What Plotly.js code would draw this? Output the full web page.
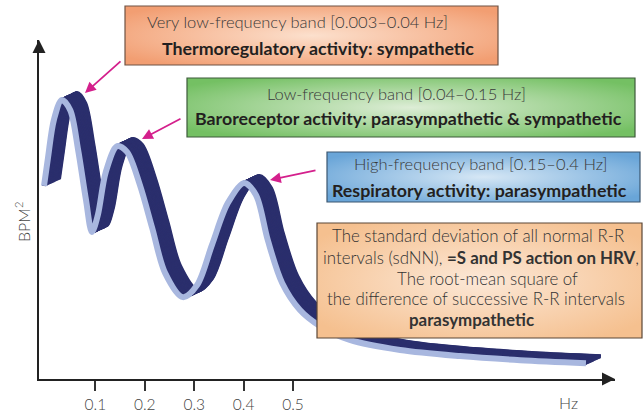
<!DOCTYPE html>
<html>
<head>
<meta charset="utf-8">
<script src="https://cdn.plot.ly/plotly-3.0.1.min.js"></script>
<style>html,body{margin:0;padding:0;background:#fff;}#chart{width:644px;height:413px;}</style>
</head>
<body>
<div id="chart"></div>
<script>
// ---- data (frequency in Hz, spectral power in arbitrary BPM² units)
const freqHz = [-0.004, 0.004, 0.016, 0.032, 0.049, 0.065, 0.081, 0.093, 0.105, 0.121, 0.144, 0.164, 0.190, 0.215, 0.241, 0.277, 0.306, 0.336, 0.368, 0.401, 0.425, 0.449, 0.478, 0.514, 0.555, 0.615, 0.717, 0.838, 0.960, 1.093];
const power  = [57.3, 65.6, 76.9, 82.8, 79.8, 68.0, 53.1, 43.6, 48.7, 61.4, 69.1, 67.4, 57.6, 44.8, 31.5, 24.3, 27.9, 39.8, 52.2, 58.2, 54.6, 41.2, 28.5, 20.5, 15.7, 11.6, 8.6, 6.8, 5.6, 4.7];
const tickVals = [0.1, 0.2, 0.3, 0.4, 0.5];
const tickText = ['0.1', '0.2', '0.3', '0.4', '0.5'];
const xAxisLabel = 'Hz';
const yAxisLabel = 'BPM<sup>2</sup>';
const bandTitles = [
  'Very low-frequency band [0.003–0.04 Hz]',
  'Low-frequency band [0.04–0.15 Hz]',
  'High-frequency band [0.15–0.4 Hz]'
];
const bandRoles = [
  'Thermoregulatory activity: sympathetic',
  'Baroreceptor activity: parasympathetic & sympathetic',
  'Respiratory activity: parasympathetic'
];
const noteLines = [
  'The standard deviation of all normal R-R',
  'intervals (sdNN), <b>=S and PS action on HRV</b>,',
  'The root-mean square of',
  'the difference of successive R-R intervals',
  '<b>parasympathetic</b>'
];

// ---- layout geometry
const W = 644, H = 413;
const M = {l: 39, r: 29, t: 40, b: 34};
const plotW = W - M.l - M.r, plotH = H - M.t - M.b;
const xRange = [-0.01417, 1.1518];
const yRange = [0, 100.6];
const px = v => (v - M.l) / plotW;            // page px -> paper x
const py = v => (H - M.b - v) / plotH;        // page px -> paper y

// ribbon depth offset (in pixels), converted to data units
const depthPx = [15, -7];
const dX = depthPx[0] * (xRange[1] - xRange[0]) / plotW;
const dY = -depthPx[1] * (yRange[1] - yRange[0]) / plotH;

const traces = [];
const N = 26;
for (let i = N; i >= 0; i--) {
  const t = i / N;
  traces.push({
    x: freqHz.map(v => v + dX * t),
    y: power.map(v => v + dY * t),
    mode: 'lines', type: 'scatter', hoverinfo: 'skip',
    line: {color: '#2B2F6D', width: 4, shape: 'spline', smoothing: 0.9}
  });
}
traces.push({
  x: freqHz, y: power, mode: 'lines', type: 'scatter', hoverinfo: 'skip',
  line: {color: '#A8B7DF', width: 6, shape: 'spline', smoothing: 0.9}
});

function gradSvg(center, edge) {
  const s = "<svg xmlns='http://www.w3.org/2000/svg' width='200' height='100' viewBox='0 0 200 100' preserveAspectRatio='none'>" +
    "<defs><radialGradient id='g' cx='0.5' cy='0.5' r='0.62'><stop offset='0' stop-color='" + center + "'/>" +
    "<stop offset='1' stop-color='" + edge + "'/></radialGradient></defs>" +
    "<rect width='200' height='100' fill='url(#g)'/></svg>";
  return 'data:image/svg+xml;charset=utf-8,' + encodeURIComponent(s);
}

const boxes = [
  {x0: 125, x1: 498, y0: 6,   y1: 65,  c: '#FCE0CD', e: '#F29E72', b: '#6E5344'},
  {x0: 187, x1: 635, y0: 78,  y1: 137, c: '#DDEDD6', e: '#74C063', b: '#3D5A3A'},
  {x0: 327, x1: 640, y0: 152, y1: 202, c: '#D6E7F5', e: '#69A5D8', b: '#3B5670'},
  {x0: 317, x1: 642, y0: 223, y1: 338, c: '#FCE8D7', e: '#F5C08F', b: '#5B4636'}
];

const images = boxes.map(bx => ({
  source: gradSvg(bx.c, bx.e), xref: 'paper', yref: 'paper',
  x: px(bx.x0), y: py(bx.y0), sizex: px(bx.x1) - px(bx.x0), sizey: py(bx.y0) - py(bx.y1),
  xanchor: 'left', yanchor: 'top', sizing: 'stretch', layer: 'above'
}));
const shapes = boxes.map(bx => ({
  type: 'rect', xref: 'paper', yref: 'paper', layer: 'above',
  x0: px(bx.x0), x1: px(bx.x1), y0: py(bx.y1), y1: py(bx.y0),
  line: {color: bx.b, width: 1.2}, fillcolor: 'rgba(0,0,0,0)'
}));

const FONT = 'Lato, "Open Sans", sans-serif';
const ann = [];
function txt(text, x, y, size, color, weight) {
  ann.push({text: text, xref: 'paper', yref: 'paper', x: px(x), y: py(y), xanchor: 'center', yanchor: 'middle',
    showarrow: false, font: {family: FONT, size: size, color: color, weight: weight || 'normal'}});
}
// band boxes
const titlePos = [[297, 22], [396, 94], [480, 164]];
const rolePos = [[318, 48], [408, 118], [479, 190]];
bandTitles.forEach((t, i) => txt(t, titlePos[i][0], titlePos[i][1], 16.5, '#383838', 300));
bandRoles.forEach((t, i) => txt('<b>' + t + '</b>', rolePos[i][0], rolePos[i][1], 17.8, '#231f20'));
// note box
const noteY = [235, 257, 278, 298, 319];
const noteX = [478, 481, 487, 476, 471];
noteLines.forEach((t, i) => txt(t, noteX[i], noteY[i], 16.9, '#333333', 300));

// axis labels
txt(xAxisLabel, 568, 402, 16, '#444', 300);
ann.push({text: yAxisLabel, xref: 'paper', yref: 'paper', x: px(22), y: py(222), textangle: -90,
  showarrow: false, xanchor: 'center', yanchor: 'middle', font: {family: FONT, size: 16, color: '#444', weight: 300}});

// magenta pointer arrows (head at peak, tail at box)
const pointers = [[85, 93, 122, 60], [142, 139, 182, 118], [270, 180, 317, 170]];
pointers.forEach(p => ann.push({
  text: '', xref: 'paper', yref: 'paper', x: px(p[0]), y: py(p[1]), ax: p[2] - p[0], ay: p[3] - p[1],
  showarrow: true, arrowhead: 2, arrowsize: 1.2, arrowwidth: 1.8, arrowcolor: '#D4208C', standoff: 0
}));
// axis arrowheads
ann.push({text: '', xref: 'paper', yref: 'paper', x: 1, y: 0, ax: -10, ay: 0, showarrow: true,
  arrowhead: 2, arrowsize: 1.3, arrowwidth: 2, arrowcolor: '#222', standoff: 0});
ann.push({text: '', xref: 'paper', yref: 'paper', x: 0, y: 1, ax: 0, ay: 10, showarrow: true,
  arrowhead: 2, arrowsize: 1.3, arrowwidth: 2, arrowcolor: '#222', standoff: 0});

const layout = {
  width: W, height: H, margin: M, showlegend: false,
  paper_bgcolor: '#fff', plot_bgcolor: '#fff',
  xaxis: {range: xRange, showgrid: false, zeroline: false, showline: true, linecolor: '#222', linewidth: 2,
    ticks: 'outside', ticklen: 10, tickwidth: 2, tickcolor: '#333', tickvals: tickVals, ticktext: tickText,
    tickfont: {family: FONT, size: 15.5, color: '#444', weight: 300}, fixedrange: true},
  yaxis: {range: yRange, showgrid: false, zeroline: false, showline: true, linecolor: '#222', linewidth: 2,
    ticks: '', showticklabels: false, fixedrange: true},
  images: images, shapes: shapes, annotations: ann
};
Plotly.newPlot('chart', traces, layout, {displayModeBar: false, staticPlot: true});
</script>
</body>
</html>
